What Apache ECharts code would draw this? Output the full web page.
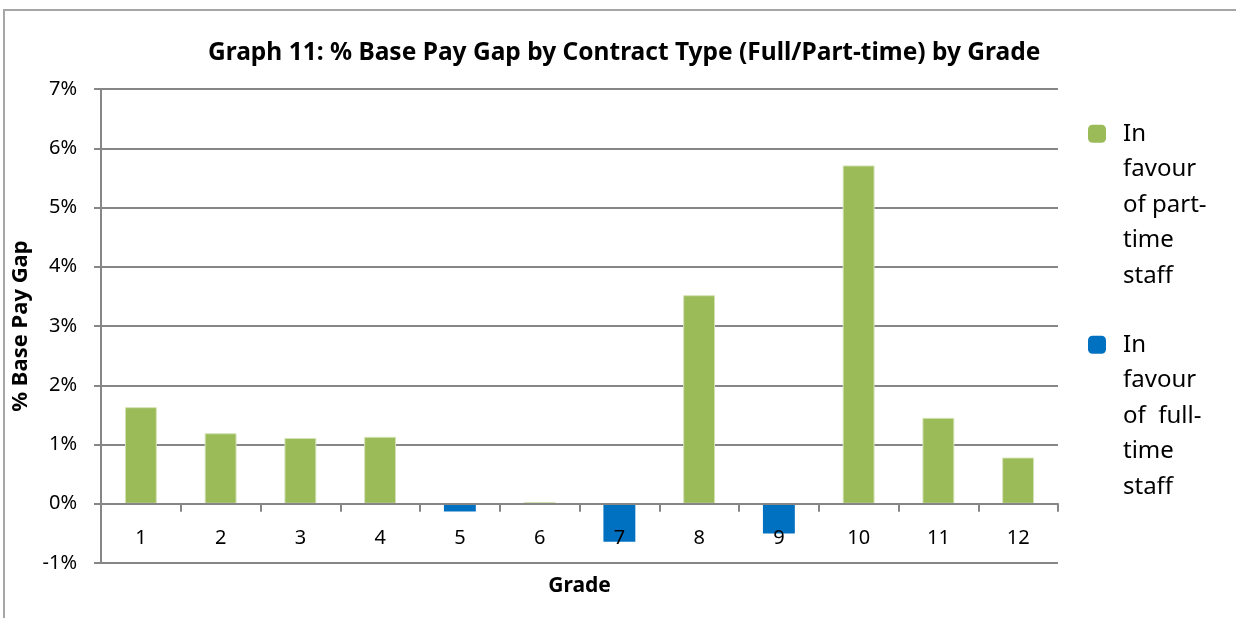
<!DOCTYPE html>
<html>
<head>
<meta charset="utf-8">
<script src="https://cdn.jsdelivr.net/npm/echarts@6/dist/echarts.min.js"></script>
<style>
  html, body { margin: 0; padding: 0; background: #fff; }
  #chart { width: 1236px; height: 618px; }
</style>
</head>
<body>
<div id="chart"></div>
<script>
// grades on the x axis
const grades = ['1', '2', '3', '4', '5', '6', '7', '8', '9', '10', '11', '12']
// % gap, positive = in favour of part-time, negative = in favour of full-time
const partTime = [1.63, 1.19, 1.11, 1.13, '-', 0.03, '-', 3.52, '-', 5.71, 1.45, 0.78]
const fullTime = ['-', '-', '-', '-', -0.13, '-', -0.64, '-', -0.50, '-', '-', '-']
const seriesNames = ['In favour of part-time staff', 'In favour of full-time staff']
const legendLines = [
  ['In', 'favour', 'of part-', 'time', 'staff'],
  ['In', 'favour', 'of  full-', 'time', 'staff'],
]
const yMin = -1, yMax = 7, yStep = 1

const font = 'Noto Sans'
const gray = '#868686'
const lineH = 35.5
// plot height 474px over 8 units -> the zero line sits 1 unit above the bottom
const zeroOffset = -474 / (yMax - yMin) * (0 - yMin)

const chart = echarts.init(document.getElementById('chart'))

// one legend per item; blank lines on top keep the marker level with "In"
const legends = seriesNames.map((name, i) => ({
  data: [name],
  orient: 'vertical',
  left: 1088,
  top: i === 0 ? -26 : 185,
  padding: 0,
  icon: 'roundRect',
  itemWidth: 18,
  itemHeight: 18,
  itemStyle: { borderWidth: 0 },
  selectedMode: false,
  formatter: () => '\n\n\n\n' + legendLines[i].join('\n'),
  textStyle: {
    fontFamily: font,
    fontSize: 24,
    color: '#000',
    lineHeight: lineH,
    padding: [0, 0, 0, 12],
  },
}))

const option = {
  animation: false,
  backgroundColor: '#fff',
  title: {
    text: 'Graph 11: % Base Pay Gap by Contract Type (Full/Part-time) by Grade',
    left: 208,
    top: 41,
    padding: 0,
    textStyle: { fontFamily: font, fontSize: 24.5, fontWeight: 'bold', color: '#000' },
  },
  legend: legends,
  grid: { left: 101, right: 178, top: 89, bottom: 55, containLabel: false, outerBoundsMode: 'none' },
  xAxis: {
    type: 'category',
    data: grades,
    offset: zeroOffset,
    z: 3, // grade labels sit on top of the negative bars
    name: 'Grade',
    nameLocation: 'middle',
    nameGap: 72,
    nameTextStyle: { fontFamily: font, fontSize: 21, fontWeight: 'bold', color: '#000' },
    axisLine: { onZero: false, lineStyle: { color: gray, width: 2 } },
    axisTick: { show: true, length: 8, lineStyle: { color: gray, width: 2 } },
    axisLabel: { fontFamily: font, fontSize: 20, color: '#000', margin: 25 },
  },
  yAxis: {
    type: 'value',
    min: yMin,
    max: yMax,
    interval: yStep,
    name: '% Base Pay Gap',
    nameLocation: 'middle',
    nameGap: 64,
    nameTextStyle: { fontFamily: font, fontSize: 22, fontWeight: 'bold', color: '#000' },
    axisLine: { show: true, lineStyle: { color: gray, width: 2 } },
    axisTick: { show: true, length: 7, lineStyle: { color: gray, width: 2 } },
    axisLabel: { fontFamily: font, fontSize: 20, color: '#000', margin: 24, formatter: '{value}%' },
    splitLine: { show: true, lineStyle: { color: gray, width: 2 } },
  },
  graphic: [
    // outer chart frame (partly cropped in the original)
    { type: 'line', shape: { x1: 3, y1: 10, x2: 1236, y2: 10 }, style: { stroke: '#a6a6a6', lineWidth: 2 } },
    { type: 'line', shape: { x1: 4, y1: 10, x2: 4, y2: 618 }, style: { stroke: '#a6a6a6', lineWidth: 2 } },
  ],
  series: [
    {
      name: seriesNames[0],
      type: 'bar',
      stack: 'gap',
      data: partTime,
      barWidth: '40%',
      itemStyle: { color: '#9BBB59', borderColor: '#d4e3b5', borderWidth: 1 },
    },
    {
      name: seriesNames[1],
      type: 'bar',
      stack: 'gap',
      data: fullTime,
      barWidth: '40%',
      itemStyle: { color: '#0070C0' },
    },
  ],
}

chart.setOption(option)
</script>
</body>
</html>
